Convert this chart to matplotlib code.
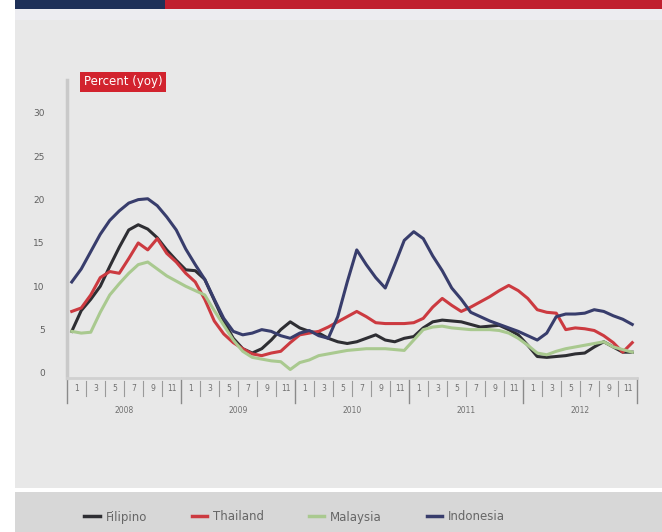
import matplotlib
matplotlib.use("Agg")
import matplotlib.pyplot as plt
from matplotlib.patches import Rectangle
from matplotlib.lines import Line2D
from matplotlib.transforms import blended_transform_factory

# Food inflation, monthly, percent year on year
years = ["2008", "2009", "2010", "2011", "2012"]
month_labels = ["1", "3", "5", "7", "9", "11"]

filipino = [4.8, 7.2, 8.5, 10.0, 12.3, 14.5, 16.5, 17.1, 16.6, 15.6, 14.2, 13.0,
            11.9, 11.8, 10.8, 8.4, 6.0, 4.0, 2.8, 2.3, 2.8, 3.8, 5.0, 5.9,
            5.2, 4.8, 4.6, 4.0, 3.6, 3.4, 3.6, 4.0, 4.4, 3.8, 3.6, 4.0,
            4.2, 5.2, 5.9, 6.1, 6.0, 5.9, 5.6, 5.3, 5.4, 5.5, 5.0, 4.4,
            3.2, 1.9, 1.8, 1.9, 2.0, 2.2, 2.3, 3.0, 3.6, 3.0, 2.4, 2.4]
thailand = [7.1, 7.5, 9.0, 11.0, 11.7, 11.5, 13.2, 15.0, 14.2, 15.5, 13.8, 12.8,
            11.5, 10.5, 8.5, 6.0, 4.5, 3.5, 2.8, 2.2, 2.0, 2.3, 2.5, 3.5,
            4.4, 4.6, 4.8, 5.3, 5.9, 6.5, 7.1, 6.5, 5.8, 5.7, 5.7, 5.7,
            5.8, 6.3, 7.6, 8.6, 7.8, 7.1, 7.6, 8.2, 8.8, 9.5, 10.1, 9.5,
            8.6, 7.3, 7.0, 6.9, 5.0, 5.2, 5.1, 4.9, 4.3, 3.5, 2.4, 3.5]
malaysia = [4.8, 4.6, 4.7, 7.0, 9.0, 10.3, 11.5, 12.5, 12.8, 12.0, 11.2, 10.6,
            10.0, 9.5, 9.0, 7.2, 5.5, 3.8, 2.5, 1.8, 1.6, 1.4, 1.3, 0.4,
            1.2, 1.5, 2.0, 2.2, 2.4, 2.6, 2.7, 2.8, 2.8, 2.8, 2.7, 2.6,
            3.8, 5.0, 5.3, 5.4, 5.2, 5.1, 5.0, 5.0, 5.0, 4.9, 4.6, 4.0,
            3.2, 2.3, 2.1, 2.5, 2.8, 3.0, 3.2, 3.4, 3.6, 3.0, 2.7, 2.4]
indonesia = [10.5, 12.0, 14.0, 16.0, 17.6, 18.7, 19.6, 20.0, 20.1, 19.3, 18.0, 16.5,
             14.3, 12.5, 10.8, 8.5, 6.3, 4.8, 4.4, 4.6, 5.0, 4.8, 4.3, 4.0,
             4.6, 4.9, 4.3, 4.0, 6.5, 10.5, 14.2, 12.5, 11.0, 9.8, 12.5, 15.3,
             16.3, 15.5, 13.5, 11.8, 9.8, 8.5, 7.0, 6.5, 6.0, 5.6, 5.2, 4.8,
             4.3, 3.8, 4.6, 6.5, 6.8, 6.8, 6.9, 7.3, 7.1, 6.6, 6.2, 5.6]

series = [("Filipino", filipino, "#2e2e33"),
          ("Thailand", thailand, "#cc3a40"),
          ("Malaysia", malaysia, "#a9c98f"),
          ("Indonesia", indonesia, "#383d6c")]

W, H = 662, 532
fig = plt.figure(figsize=(W / 100, H / 100), dpi=100)
fig.patch.set_facecolor("white")

def px_rect(x0, y0, x1, y1, color):
    fig.patches.append(Rectangle((x0 / W, 1 - y1 / H), (x1 - x0) / W, (y1 - y0) / H,
                                 transform=fig.transFigure, facecolor=color,
                                 edgecolor="none", zorder=-10))

# panel background, header bars and legend band
px_rect(15, 9, W, 488, "#e8e8e8")
px_rect(15, 9, W, 20, "#ececf0")
px_rect(15, 0, 165, 9, "#1e3058")
px_rect(165, 0, W, 9, "#c01f2e")
px_rect(15, 492, W, H, "#d7d7d7")

ax = fig.add_axes([67 / W, 1 - 378 / H, (637 - 67) / W, (378 - 80) / H])
ax.set_zorder(5)
ax.set_facecolor("none")
n = len(filipino)
xs = list(range(n))
for name, vals, col in series:
    ax.plot(xs, vals, color=col, lw=2.2, solid_joinstyle="round")

ax.set_xlim(-0.5, n - 0.5)
ax.set_ylim(-0.58, 33.8)
for s in ["top", "right"]:
    ax.spines[s].set_visible(False)
ax.spines["left"].set_color("#c9c9c9")
ax.spines["left"].set_linewidth(2.5)
ax.spines["bottom"].set_color("#d0d0d0")
ax.spines["bottom"].set_linewidth(2.0)

ax.set_yticks(range(0, 31, 5))
ax.tick_params(axis="y", length=0, labelsize=6.5, labelcolor="#606060", pad=16)
ax.set_xticks([])

# month and year labels below the axis
tr = blended_transform_factory(ax.transData, ax.transAxes)
for k, yr in enumerate(years):
    start = 12 * k
    for j, m in enumerate(month_labels):
        ax.text(start + 2 * j + 0.5, -0.035, m, transform=tr, ha="center", va="center",
                fontsize=5.5, color="#707070")
    for j in range(1, 6):
        ax.plot([start + 2 * j - 0.5] * 2, [-0.01, -0.06], transform=tr,
                color="#9a9a9a", lw=0.8, clip_on=False)
    ax.text(start + 5.5, -0.11, yr, transform=tr, ha="center", va="center",
            fontsize=5.5, color="#707070")
for k in range(len(years) + 1):
    ax.plot([12 * k - 0.5] * 2, [0, -0.085], transform=tr,
            color="#8a8a8a", lw=1.0, clip_on=False)

fig.text(84 / W, 1 - 82 / H, "Percent (yoy)", fontsize=8.5, color="white",
         ha="left", va="center", zorder=6,
         bbox=dict(boxstyle="square,pad=0.3", facecolor="#d2232e", edgecolor="none"))

handles = [Line2D([0], [0], color=c, lw=2.5) for _, _, c in series]
leg = fig.legend(handles, [s[0] for s in series], loc="center", ncol=4,
                 bbox_to_anchor=(0.445, 1 - 517 / H), frameon=False, fontsize=8.5,
                 labelcolor="#666666", handlelength=1.3, columnspacing=3.8,
                 handletextpad=0.5)
leg.set_zorder(6)

fig.savefig("out.png", dpi=100)
